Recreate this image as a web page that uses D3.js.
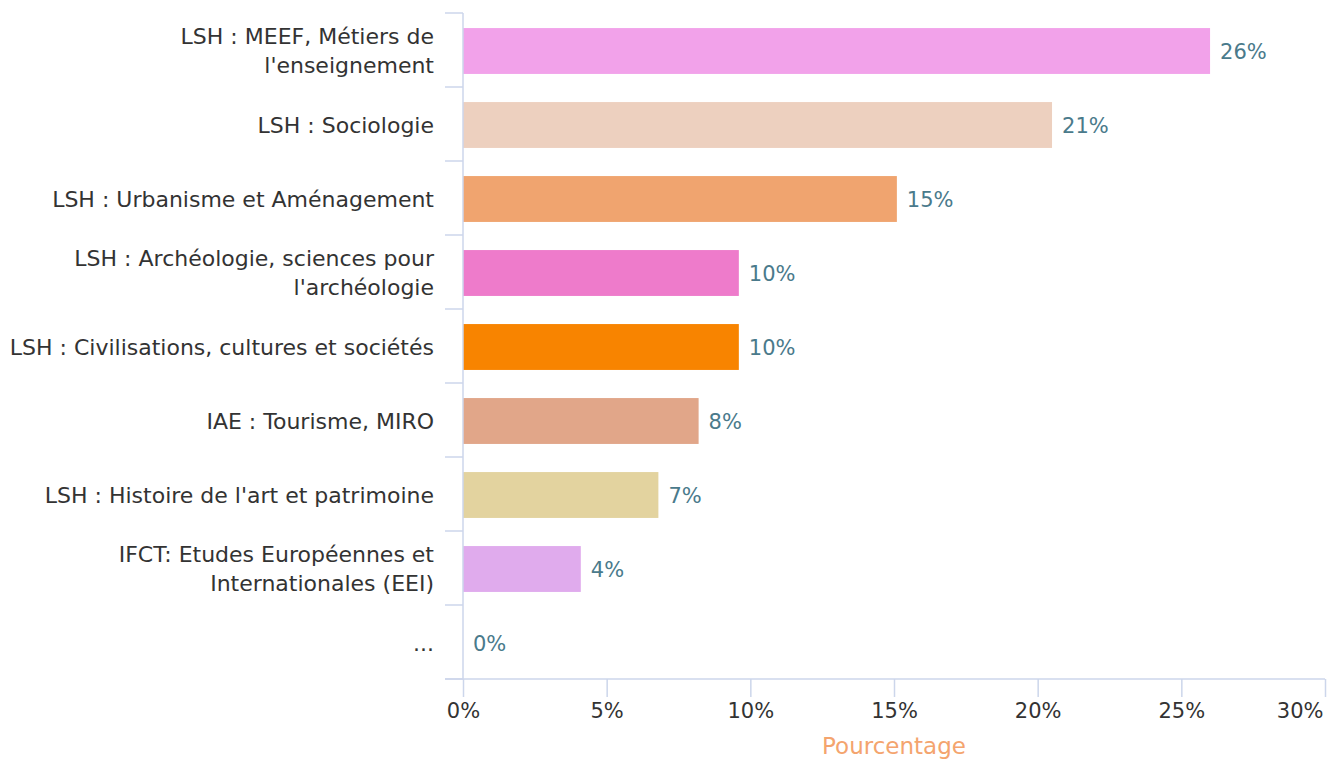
<!DOCTYPE html>
<html>
<head>
<meta charset="utf-8">
<script src="https://cdn.jsdelivr.net/npm/d3@7"></script>
<style>
    body { margin: 0; background: #ffffff; }
    svg { display: block; font-family: "DejaVu Sans", sans-serif; }
</style>
</head>
<body>
<script>
"use strict";

// each label is split into its display lines
const categories = [
    ["LSH : MEEF, Métiers de", "l'enseignement"],
    ["LSH : Sociologie"],
    ["LSH : Urbanisme et Aménagement"],
    ["LSH : Archéologie, sciences pour", "l'archéologie"],
    ["LSH : Civilisations, cultures et sociétés"],
    ["IAE : Tourisme, MIRO"],
    ["LSH : Histoire de l'art et patrimoine"],
    ["IFCT: Etudes Européennes et", "Internationales (EEI)"],
    ["..."]
];
const percentages = [26.0, 20.5, 15.1, 9.6, 9.6, 8.2, 6.8, 4.1, 0];
const barColors = ["#f2a2ea", "#edd0bf", "#f0a46f", "#ee7bcb", "#f88400", "#e1a689", "#e3d39f", "#e0abed", "#cccccc"];
const xTicks = [0, 5, 10, 15, 20, 25, 30];
const xTitle = "Pourcentage";

(function(){
    let svgContainer = "";

    const measurements = {
        width: 1338,
        height: 762,
        left: 463,
        right: 1325,
        top: 13,
        bottom: 679
    }

    const axisColor = "#ccd6eb";

    window.onload = function() {
        svgContainer = d3.select('body').append("svg")
            .attr('width', measurements.width)
            .attr('height', measurements.height);

        const keys = categories.map((c) => c.join(" "));

        let scaleX = d3.scaleLinear()
            .domain([0, 30])
            .range([measurements.left, measurements.right]);

        let scaleY = d3.scaleBand()
            .domain(keys)
            .range([measurements.top, measurements.bottom])
            .paddingInner(0.38)
            .paddingOuter(0.19);

        plotData(scaleX, scaleY, keys);
        drawAxes(scaleX, scaleY, keys);
        makeLabels();
    }

    function plotData(scaleX, scaleY, keys) {
        const rows = keys.map((k, i) => ({ key: k, value: percentages[i], color: barColors[i] }));

        svgContainer.selectAll(".bar")
            .data(rows)
            .enter()
            .append('rect')
                .attr('class', 'bar')
                .attr('x', scaleX(0))
                .attr('y', (d) => scaleY(d.key) + 1)
                .attr('width', (d) => scaleX(d.value) - scaleX(0))
                .attr('height', scaleY.bandwidth())
                .attr('fill', (d) => d.color);

        svgContainer.selectAll(".value")
            .data(rows)
            .enter()
            .append('text')
                .attr('class', 'value')
                .attr('x', (d) => scaleX(d.value) + 10)
                .attr('y', (d) => scaleY(d.key) + scaleY.bandwidth() / 2 + 9)
                .style('font-size', '21px')
                .attr('fill', '#4a7a8b')
                .text((d) => Math.round(d.value) + "%");
    }

    function drawAxes(scaleX, scaleY, keys) {
        const step = scaleY.step();
        const edges = d3.range(keys.length + 1).map((i) => measurements.top + i * step);

        // y axis: line plus ticks on the band edges
        const yAxis = svgContainer.append('g');
        yAxis.append('line')
            .attr('x1', measurements.left).attr('x2', measurements.left)
            .attr('y1', measurements.top).attr('y2', measurements.bottom)
            .attr('stroke', axisColor).attr('stroke-width', 1.5);
        yAxis.selectAll('.ytick')
            .data(edges)
            .enter()
            .append('line')
                .attr('x1', measurements.left - 18).attr('x2', measurements.left)
                .attr('y1', (d) => d).attr('y2', (d) => d)
                .attr('stroke', axisColor).attr('stroke-width', 1.5);

        const fs = 22;
        const lineGap = 29;
        yAxis.selectAll('.ylabel')
            .data(categories)
            .enter()
            .append('text')
                .attr('text-anchor', 'end')
                .style('font-size', fs + 'px')
                .attr('fill', '#333333')
                .each(function(lines, i) {
                    const center = scaleY(keys[i]) + scaleY.bandwidth() / 2;
                    const base = center + 0.36 * fs + 1;
                    d3.select(this).selectAll('tspan')
                        .data(lines)
                        .enter()
                        .append('tspan')
                            .attr('x', measurements.left - 29)
                            .attr('y', (l, j) => base + (j - (lines.length - 1) / 2) * lineGap)
                            .text((l) => l);
                });

        // x axis
        let xAxis = d3.axisBottom()
            .scale(scaleX)
            .tickValues(xTicks)
            .tickSize(18)
            .tickPadding(6)
            .tickFormat((d) => d + "%");

        const gx = svgContainer.append('g')
            .attr('transform', 'translate(0,' + measurements.bottom + ')')
            .call(xAxis);
        gx.select('.domain')
            .attr('d', 'M' + (measurements.left - 18) + ',0H' + measurements.right)
            .attr('stroke', axisColor).attr('stroke-width', 1.5);
        gx.selectAll('.tick line').attr('stroke', axisColor).attr('stroke-width', 1.5);
        gx.selectAll('.tick text')
            .style('font-size', '21px')
            .style('font-family', '"DejaVu Sans", sans-serif')
            .attr('fill', '#333333');
        // keep the last label inside the chart
        gx.selectAll('.tick text')
            .filter((d) => d === xTicks[xTicks.length - 1])
            .attr('text-anchor', 'end')
            .attr('x', -2);
    }

    function makeLabels() {
        svgContainer.append('text')
          .attr('x', (measurements.left + measurements.right) / 2)
          .attr('y', 754)
          .attr('text-anchor', 'middle')
          .style('font-size', '23px')
          .attr('fill', '#f4a46e')
          .text(xTitle);
    }
})()
</script>
</body>
</html>
